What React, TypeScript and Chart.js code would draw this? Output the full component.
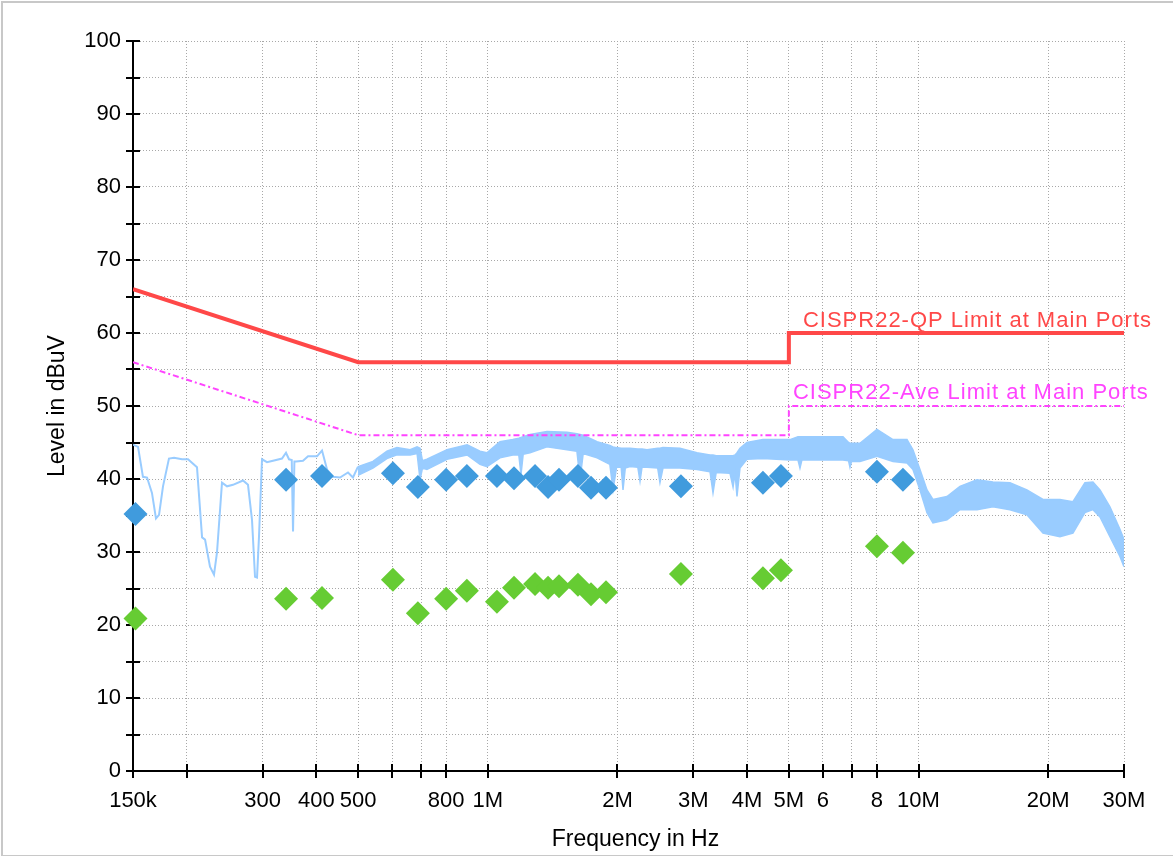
import React, { useEffect, useRef } from 'react';
import { Chart, registerables } from 'chart.js';

Chart.register(...registerables);

// ---- Data (frequency in kHz, level in dBuV) ----
const thinFreq = [
  150.0, 154.1, 158.2, 161.7, 166.0, 169.6, 172.4, 176.1, 181.8, 186.8, 195.0, 201.3, 211.2,
  217.0, 220.5, 226.4, 231.3, 235.0, 241.4, 248.0, 256.0, 270.1, 277.4, 283.4, 288.0, 291.1,
  294.2, 299.0, 307.1, 317.1, 332.7, 339.9, 345.4, 350.5, 352.9, 355.5, 358.6, 372.3, 382.4,
  401.2, 412.1, 423.3, 437.1, 453.7, 473.5, 486.3, 499.5,
];
const thinLevel = [
  44.7, 44.4, 40.3, 40.2, 38.1, 34.6, 35.1, 39.0, 42.8, 42.9, 42.7, 42.7, 41.6,
  32.0, 31.7, 28.0, 26.9, 29.9, 39.5, 39.0, 39.2, 39.8, 39.2, 34.4, 26.6, 26.5,
  32.1, 42.7, 42.3, 42.5, 42.8, 43.6, 42.7, 42.6, 32.8, 42.4, 42.4, 42.5, 43.1,
  43.1, 43.9, 41.3, 40.3, 40.2, 40.9, 40.2, 41.7,
];

const bandFreq = [
  499.5, 541, 583, 615, 660, 685, 696, 705, 722, 804, 895, 959, 995, 1067, 1143, 1180, 1194, 1208,
  1253, 1372, 1527, 1610, 1637, 1665, 1793, 1920, 1953, 1990, 2040, 2060, 2085, 2139, 2230, 2256,
  2280, 2342, 2480, 2510, 2551, 2793, 3059, 3280, 3333, 3390, 3649, 3710, 3750, 3789, 3850, 3996,
  4353, 5030, 5250, 5306, 5360, 6131, 6678, 6880, 6932, 6990, 7312, 8008, 8724, 9403, 9707,
  10078, 10463, 10803, 11643, 12481, 13667, 14888, 16305, 17852, 19455, 21300, 22830, 24345,
  25410, 26385, 27825, 29355, 30000,
];
const bandHigh = [
  41.7, 42.4, 43.8, 44.3, 44.0, 44.4, 44.2, 42.5, 42.7, 44.0, 44.7, 43.8, 43.6, 45.1, 45.4, 45.6, 45.7, 45.8,
  46.1, 46.5, 46.4, 46.2, 46.1, 46.0, 45.1, 44.6, 44.4, 44.3, 44.2, 44.2, 44.2, 44.2, 44.1, 44.1,
  44.1, 44.0, 44.2, 44.2, 44.3, 44.2, 43.6, 43.3, 43.3, 43.2, 43.2, 43.2, 43.3, 43.6, 44.2, 45.0,
  45.4, 45.4, 45.8, 45.8, 45.8, 45.8, 45.8, 45.0, 44.9, 44.9, 44.9, 46.8, 45.4, 45.4, 44.0,
  41.3, 38.5, 37.2, 37.6, 39.0, 39.9, 39.6, 39.5, 38.5, 37.2, 37.2, 36.9, 39.5,
  39.6, 38.5, 36.2, 33.1, 31.7,
];
const bandLow = [
  40.5, 41.5, 42.8, 43.3, 43.3, 43.5, 39.9, 41.5, 41.3, 42.7, 43.3, 42.0, 41.7, 42.9, 43.3, 43.3, 40.6, 43.4,
  43.6, 44.4, 44.0, 43.8, 39.9, 43.5, 42.9, 42.0, 38.5, 41.6, 41.6, 38.5, 41.5, 41.7, 41.6, 39.7,
  41.6, 41.6, 41.5, 39.5, 41.5, 41.5, 41.3, 41.0, 38.1, 40.9, 40.8, 38.9, 40.8, 37.6, 41.5, 42.7,
  42.8, 42.6, 42.6, 41.5, 42.6, 42.6, 42.6, 42.5, 41.6, 42.4, 42.4, 43.1, 42.4, 42.2, 41.3,
  38.5, 35.4, 34.0, 34.4, 35.8, 35.8, 36.2, 35.8, 35.1, 32.6, 32.1, 32.6, 35.4,
  35.8, 34.8, 32.1, 29.4, 28.0,
];

const markerFreq = [
  152, 340, 412, 602, 688, 800, 894, 1050, 1150, 1287, 1380, 1463, 1619, 1736, 1881, 2808, 4353,
  4792, 8008, 9202,
];
const qpLevel = [
  35.2, 39.9, 40.4, 40.8, 38.9, 39.9, 40.4, 40.4, 40.1, 40.4, 38.9, 39.9, 40.4, 38.8, 38.8, 39.0,
  39.5, 40.4, 41.0, 39.9,
];
const avLevel = [
  20.9, 23.6, 23.7, 26.2, 21.6, 23.6, 24.7, 23.2, 25.1, 25.6, 25.1, 25.3, 25.5, 24.2, 24.5, 27.0,
  26.4, 27.5, 30.8, 29.9,
];

const limitFreq = [150, 500, 5000, 5000, 30000];
const qpLimit = [66, 56, 56, 60, 60];
const avLimit = [56, 46, 46, 50, 50];

const xTickValues = [150, 200, 300, 400, 500, 600, 700, 800, 1000, 2000, 3000, 4000, 5000, 6000, 7000, 8000, 10000, 20000, 30000];
const xTickLabels = ['150k', '', '300', '400', '500', '', '', '800', '1M', '2M', '3M', '4M', '5M', '6', '', '8', '10M', '20M', '30M'];

const qpLabel = 'CISPR22-QP Limit at Main Ports';
const avLabel = 'CISPR22-Ave Limit at Main Ports';
const xTitle = 'Frequency in Hz';
const yTitle = 'Level in dBuV';

const FONT = '"Liberation Sans", Arial, Helvetica, sans-serif';
const TRACE = 'rgb(153,204,255)';

const pts = (xs: number[], ys: number[]) => xs.map((x, i) => ({ x, y: ys[i] }));

const decorPlugin = {
  id: 'decor',
  beforeDatasetsDraw(chart: any) {
    const { ctx, chartArea: a, scales } = chart;
    const x = scales.x;
    const y = scales.y;
    ctx.save();
    ctx.strokeStyle = '#000';
    ctx.lineWidth = 2;
    ctx.beginPath();
    xTickValues.forEach((v) => {
      const px = Math.round(x.getPixelForValue(v));
      ctx.moveTo(px, a.bottom - 7);
      ctx.lineTo(px, a.bottom + 7);
    });
    for (let v = 0; v <= 100; v += 5) {
      const py = Math.round(y.getPixelForValue(v));
      ctx.moveTo(a.left - 7, py);
      ctx.lineTo(a.left + 7, py);
    }
    ctx.stroke();
    ctx.restore();
  },
  afterDraw(chart: any) {
    const { ctx, chartArea: a, scales } = chart;
    const x = scales.x;
    const y = scales.y;
    ctx.save();
    ctx.fillStyle = '#000';
    ctx.font = `23px ${FONT}`;
    ctx.textAlign = 'center';
    ctx.textBaseline = 'middle';
    ctx.fillText(xTitle, (a.left + a.right) / 2 + 7, a.bottom + 69);
    ctx.save();
    ctx.translate(58, (a.top + a.bottom) / 2);
    ctx.rotate(-Math.PI / 2);
    ctx.fillText(yTitle, 0, 0);
    ctx.restore();
    ctx.font = `22px ${FONT}`;
    (ctx as any).letterSpacing = '1px';
    ctx.textAlign = 'left';
    ctx.textBaseline = 'alphabetic';
    ctx.fillStyle = '#ff4848';
    ctx.fillText(qpLabel, x.getPixelForValue(5390), y.getPixelForValue(60) - 6);
    ctx.fillStyle = '#ff44ff';
    ctx.fillText(avLabel, x.getPixelForValue(5110), y.getPixelForValue(50) - 7);
    (ctx as any).letterSpacing = '0px';
    ctx.restore();
  },
};

export default function App() {
  const ref = useRef<HTMLCanvasElement | null>(null);

  useEffect(() => {
    document.body.style.margin = '0';
    const canvas = ref.current;
    if (!canvas) return;
    const chart = new Chart(canvas, {
      type: 'line',
      data: {
        datasets: [
          {
            label: 'QP',
            data: pts(markerFreq, qpLevel),
            showLine: false,
            pointStyle: 'rectRot',
            pointRadius: 12,
            pointHoverRadius: 12,
            pointBackgroundColor: 'rgb(64,155,221)',
            pointBorderWidth: 0,
            borderColor: 'rgb(64,155,221)',
            clip: false,
          },
          {
            label: 'AV',
            data: pts(markerFreq, avLevel),
            showLine: false,
            pointStyle: 'rectRot',
            pointRadius: 12,
            pointHoverRadius: 12,
            pointBackgroundColor: 'rgb(102,204,51)',
            pointBorderWidth: 0,
            borderColor: 'rgb(102,204,51)',
            clip: false,
          },
          {
            label: 'QP limit',
            data: pts(limitFreq, qpLimit),
            borderColor: '#ff4848',
            borderWidth: 4,
            pointRadius: 0,
            tension: 0,
            fill: false,
          },
          {
            label: 'AV limit',
            data: pts(limitFreq, avLimit),
            borderColor: '#ff44ff',
            borderWidth: 2,
            borderDash: [6, 3, 2, 3],
            pointRadius: 0,
            tension: 0,
            fill: false,
          },
          {
            label: 'Peak high',
            data: pts(bandFreq, bandHigh),
            borderColor: TRACE,
            borderWidth: 1.5,
            pointRadius: 0,
            tension: 0,
            fill: false,
          },
          {
            label: 'Peak low',
            data: pts(bandFreq, bandLow),
            borderColor: TRACE,
            backgroundColor: TRACE,
            borderWidth: 1.5,
            pointRadius: 0,
            tension: 0,
            fill: '-1',
          },
          {
            label: 'Peak',
            data: pts(thinFreq, thinLevel),
            borderColor: TRACE,
            borderWidth: 2,
            pointRadius: 0,
            tension: 0,
            fill: false,
          },
        ],
      },
      options: {
        animation: false,
        responsive: false,
        devicePixelRatio: 1,
        events: [],
        layout: { padding: { top: 41, right: 49, left: 0, bottom: 0 } },
        plugins: {
          legend: { display: false },
          tooltip: { enabled: false },
          title: { display: false },
        },
        scales: {
          x: {
            type: 'logarithmic',
            min: 150,
            max: 30000,
            afterBuildTicks: (scale: any) => {
              scale.ticks = xTickValues.map((v) => ({ value: v }));
            },
            afterFit: (scale: any) => {
              scale.height = 85;
            },
            ticks: {
              autoSkip: false,
              maxRotation: 0,
              minRotation: 0,
              padding: 17,
              color: '#000',
              font: { family: FONT, size: 22 },
              callback: (_v: any, i: number) => xTickLabels[i],
            },
            grid: { color: '#a8a8a8', lineWidth: 1, drawTicks: false },
            border: { display: true, color: '#000', width: 2, dash: [1, 2] },
          },
          y: {
            type: 'linear',
            min: 0,
            max: 100,
            afterFit: (scale: any) => {
              scale.width = 133;
            },
            ticks: {
              stepSize: 5,
              padding: 12,
              color: '#000',
              font: { family: FONT, size: 22 },
              callback: (v: any) => (Number(v) % 10 === 0 ? String(v) : ''),
            },
            grid: { color: '#a8a8a8', lineWidth: 1, drawTicks: false },
            border: { display: true, color: '#000', width: 2, dash: [1, 2] },
          },
        },
      } as any,
      plugins: [decorPlugin],
    });
    return () => chart.destroy();
  }, []);

  return (
    <div style={{ position: 'relative', width: 1173, height: 856, background: '#fff', overflow: 'hidden' }}>
      <canvas ref={ref} width={1173} height={856} style={{ display: 'block', width: 1173, height: 856 }} />
      <div
        style={{
          position: 'absolute',
          left: 1,
          top: 1,
          width: 1180,
          height: 852,
          border: '2px solid #c8c8c8',
          pointerEvents: 'none',
        }}
      />
    </div>
  );
}
